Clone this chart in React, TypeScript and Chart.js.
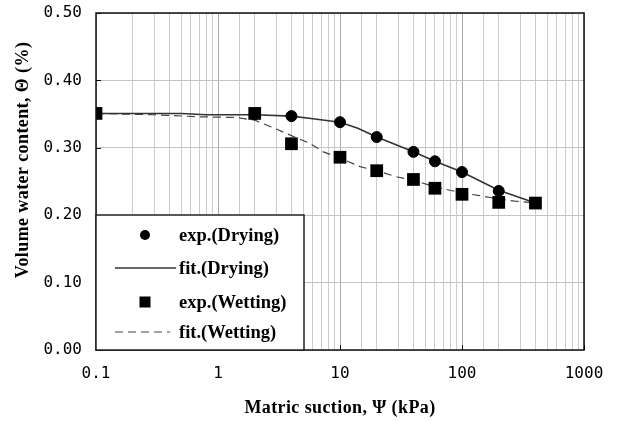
import React, { useEffect, useRef } from 'react';
import { Chart, registerables } from 'chart.js';

Chart.register(...registerables);

// ---- data ----
const suction = [0.1, 2, 4, 10, 20, 40, 60, 100, 200, 400];
const expDrying = [0.351, 0.35, 0.347, 0.338, 0.316, 0.294, 0.28, 0.264, 0.236, 0.218];
const expWetting = [0.351, 0.351, 0.306, 0.286, 0.266, 0.253, 0.24, 0.231, 0.219, 0.218];

const fitDryingX = [0.1, 0.5, 0.8, 2, 4, 6, 10, 14, 20, 40, 60, 100, 200, 400];
const fitDryingY = [0.351, 0.351, 0.349, 0.349, 0.347, 0.343, 0.338, 0.329, 0.316, 0.294, 0.28, 0.264, 0.237, 0.218];

const fitWettingX = [0.1, 0.3, 0.7, 1.4, 2, 3, 4, 5.6, 7.3, 10, 14.6, 20, 29, 40, 60, 100, 140, 200, 270, 400];
const fitWettingY = [0.351, 0.349, 0.346, 0.345, 0.341, 0.328, 0.318, 0.307, 0.294, 0.285, 0.272, 0.266, 0.257, 0.252, 0.242, 0.233, 0.229, 0.224, 0.221, 0.218];

const yTicks = [0, 0.1, 0.2, 0.3, 0.4, 0.5];
const xTickLabels = [0.1, 1, 10, 100, 1000];
const legendLabels = ['exp.(Drying)', 'fit.(Drying)', 'exp.(Wetting)', 'fit.(Wetting)'];
const xTitle = 'Matric suction, \u03A8 (kPa)';
const yTitle = 'Volume water content, \u0398 (%)';

const zip = (xs: number[], ys: number[]) => xs.map((x, i) => ({ x, y: ys[i] }));

const TICK_FONT = { family: '"DejaVu Sans Mono", monospace', size: 16 };
const SERIF = '"Liberation Serif", "Times New Roman", serif';

const isDecade = (v: number) => {
  const l = Math.log10(v);
  return Math.abs(l - Math.round(l)) < 1e-6;
};

const overlay = {
  id: 'overlay',
  afterDraw(chart: any) {
    const { ctx, chartArea, scales } = chart;
    const { left, top, right, bottom } = chartArea;
    const x = scales.x;
    const y = scales.y;
    ctx.save();

    // inner tick marks
    ctx.strokeStyle = '#000';
    ctx.lineWidth = 1;
    ctx.beginPath();
    yTicks.forEach((v) => {
      const py = Math.round(y.getPixelForValue(v)) + 0.5;
      ctx.moveTo(left, py);
      ctx.lineTo(left + 5, py);
    });
    xTickLabels.forEach((v) => {
      const px = Math.round(x.getPixelForValue(v)) + 0.5;
      ctx.moveTo(px, bottom);
      ctx.lineTo(px, bottom - 5);
    });
    ctx.stroke();

    // plot frame
    ctx.lineWidth = 1.5;
    ctx.strokeStyle = '#111';
    ctx.strokeRect(left, top, right - left, bottom - top);

    // legend box
    const bx = left;
    const by = bottom - 135;
    const bw = 208;
    const bh = bottom - by;
    ctx.fillStyle = '#fff';
    ctx.fillRect(bx, by, bw, bh);
    ctx.strokeStyle = '#222';
    ctx.lineWidth = 1.5;
    ctx.strokeRect(bx, by, bw, bh);

    const symX = bx + 49;
    const textX = bx + 83;
    const rows = [by + 20, by + 53, by + 87, by + 117];
    ctx.font = `bold 18.5px ${SERIF}`;
    ctx.textBaseline = 'middle';
    ctx.textAlign = 'left';
    ctx.fillStyle = '#000';
    rows.forEach((ry, i) => {
      ctx.fillText(legendLabels[i], textX, ry + 1);
    });
    // symbols
    ctx.beginPath();
    ctx.arc(symX, rows[0], 5, 0, Math.PI * 2);
    ctx.fill();
    ctx.strokeStyle = '#333';
    ctx.lineWidth = 1.5;
    ctx.beginPath();
    ctx.moveTo(bx + 19, rows[1]);
    ctx.lineTo(bx + 80, rows[1]);
    ctx.stroke();
    ctx.fillRect(symX - 5.5, rows[2] - 5.5, 11, 11);
    ctx.strokeStyle = '#444';
    ctx.lineWidth = 1.2;
    ctx.setLineDash([8, 5]);
    ctx.beginPath();
    ctx.moveTo(bx + 19, rows[3]);
    ctx.lineTo(bx + 74, rows[3]);
    ctx.stroke();
    ctx.setLineDash([]);

    // axis titles
    ctx.fillStyle = '#000';
    ctx.font = `bold 18px ${SERIF}`;
    ctx.textAlign = 'center';
    ctx.textBaseline = 'middle';
    try { (ctx as any).letterSpacing = '0.4px'; } catch (e) { /* ignore */ }
    ctx.fillText(xTitle, (left + right) / 2, 408);
    ctx.translate(23, 160);
    ctx.rotate(-Math.PI / 2);
    ctx.fillText(yTitle, 0, 0);
    ctx.restore();
  },
};

export default function App() {
  const ref = useRef<HTMLCanvasElement | null>(null);

  useEffect(() => {
    document.body.style.margin = '0';
    if (!ref.current) return;
    const chart = new Chart(ref.current, {
      type: 'scatter',
      data: {
        datasets: [
          {
            label: legendLabels[0],
            data: zip(suction, expDrying),
            showLine: false,
            pointStyle: 'circle',
            pointRadius: 5.5,
            backgroundColor: '#000',
            borderColor: '#000',
            borderWidth: 1,
            order: 1,
          },
          {
            label: legendLabels[1],
            data: zip(fitDryingX, fitDryingY),
            showLine: true,
            pointRadius: 0,
            borderColor: '#333',
            borderWidth: 1.6,
            tension: 0,
            order: 2,
          },
          {
            label: legendLabels[2],
            data: zip(suction, expWetting),
            showLine: false,
            pointStyle: 'rect',
            pointRadius: 9,
            backgroundColor: '#000',
            borderColor: '#000',
            borderWidth: 0,
            order: 0,
          },
          {
            label: legendLabels[3],
            data: zip(fitWettingX, fitWettingY),
            showLine: true,
            pointRadius: 0,
            borderColor: '#444',
            borderWidth: 1.2,
            borderDash: [8, 5],
            tension: 0,
            order: 3,
          },
        ] as any,
      },
      options: {
        responsive: false,
        animation: false,
        events: [],
        layout: { padding: { top: 13, right: 34, left: 0, bottom: 0 } },
        plugins: {
          legend: { display: false },
          tooltip: { enabled: false },
          title: { display: false },
        },
        scales: {
          x: {
            type: 'logarithmic',
            position: 'bottom',
            min: 0.1,
            max: 1000,
            border: { display: false },
            grid: {
              drawTicks: false,
              lineWidth: 1,
              color: (c: any) => (c.tick && isDecade(c.tick.value) ? '#a9a9a9' : '#cdcdcd'),
            },
            ticks: {
              autoSkip: false,
              maxRotation: 0,
              padding: 14,
              color: '#000',
              font: TICK_FONT,
              callback: (v: any) => {
                const n = Number(v);
                if (!isDecade(n)) return '';
                const match = xTickLabels.find((t) => Math.abs(t - n) / t < 1e-6);
                return match !== undefined ? String(match) : '';
              },
            },
            afterFit: (scale: any) => {
              scale.height = 71;
              scale.paddingLeft = 0;
              scale.paddingRight = 0;
            },
          },
          y: {
            type: 'linear',
            min: 0,
            max: 0.5,
            border: { display: false },
            grid: { drawTicks: false, color: '#c4c4c4', lineWidth: 1 },
            ticks: {
              stepSize: 0.1,
              padding: 14,
              color: '#000',
              font: TICK_FONT,
              callback: (v: any) => Number(v).toFixed(2),
            },
            afterFit: (scale: any) => {
              scale.width = 96;
              scale.paddingTop = 0;
              scale.paddingBottom = 0;
            },
          },
        },
      } as any,
      plugins: [overlay],
    });
    return () => chart.destroy();
  }, []);

  return (
    <div style={{ width: 618, height: 421, background: '#fff' }}>
      <canvas ref={ref} width={618} height={421} style={{ display: 'block' }} />
    </div>
  );
}
